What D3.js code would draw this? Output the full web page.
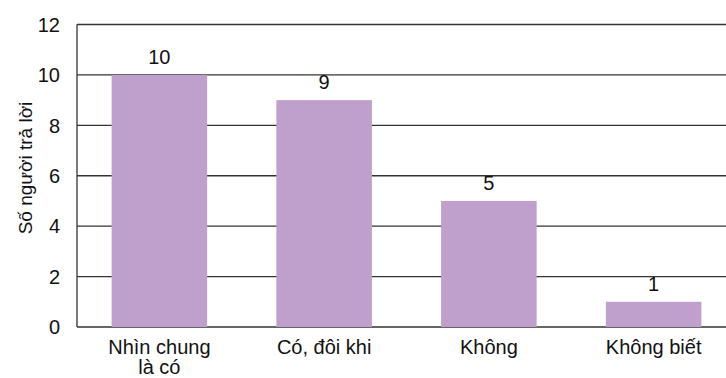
<!DOCTYPE html>
<html><head><meta charset="utf-8">
<script src="https://cdn.jsdelivr.net/npm/d3@7"></script>
<style>body{margin:0;background:#fff}svg{display:block}text{font-family:"Liberation Sans",Arial,Helvetica,sans-serif;fill:#111}</style>
</head><body>
<svg id="c" width="726" height="378"></svg>
<script>
const categories = [["Nhìn chung","là có"],["Có, đôi khi"],["Không"],["Không biết"]];
const values = [10, 9, 5, 1];
const yTicks = [0, 2, 4, 6, 8, 10, 12];
const yTitle = "Số người trả lời";

(function () {
const svg = d3.select("#c");
const mLeft = 77, mRight = 736, mTop = 24.5, mBottom = 327;
const x = d3.scaleBand().domain(d3.range(values.length)).range([mLeft, mRight]).paddingInner(0.42).paddingOuter(0.21);
const y = d3.scaleLinear().domain([0, 12]).range([mBottom, mTop]);

// gridlines
svg.append("g").selectAll("line").data(yTicks).join("line")
  .attr("x1", mLeft).attr("x2", mRight)
  .attr("y1", d => y(d)).attr("y2", d => y(d))
  .attr("stroke", "#333").attr("stroke-width", 1.3);

// left axis
svg.append("line").attr("x1", mLeft).attr("x2", mLeft).attr("y1", y(12)).attr("y2", y(0))
  .attr("stroke", "#333").attr("stroke-width", 1.3);

// tick labels
svg.append("g").selectAll("text").data(yTicks).join("text")
  .attr("x", 60).attr("y", d => y(d)).attr("dy", "0.36em")
  .attr("text-anchor", "end").attr("font-size", 20).text(d => d);

// bars
svg.append("g").selectAll("rect").data(values).join("rect")
  .attr("x", (d, i) => x(i)).attr("width", x.bandwidth())
  .attr("y", d => y(d)).attr("height", d => y(0) - y(d))
  .attr("fill", "#bfa0cc");

// value labels
svg.append("g").selectAll("text").data(values).join("text")
  .attr("x", (d, i) => x(i) + x.bandwidth() / 2).attr("y", d => y(d) - 11)
  .attr("text-anchor", "middle").attr("font-size", 20).text(d => d);

// category labels
const cg = svg.append("g").selectAll("text").data(categories).join("text")
  .attr("x", (d, i) => x(i) + x.bandwidth() / 2).attr("y", 354)
  .attr("text-anchor", "middle").attr("font-size", 20);
cg.selectAll("tspan").data(d => d).join("tspan")
  .attr("x", function() { return d3.select(this.parentNode).attr("x"); })
  .attr("dy", (d, i) => i === 0 ? 0 : 20).text(d => d);

// y title
svg.append("text").attr("transform", `translate(32,168) rotate(-90)`)
  .attr("text-anchor", "middle").attr("font-size", 19).text(yTitle);
})();
</script>
</body></html>
